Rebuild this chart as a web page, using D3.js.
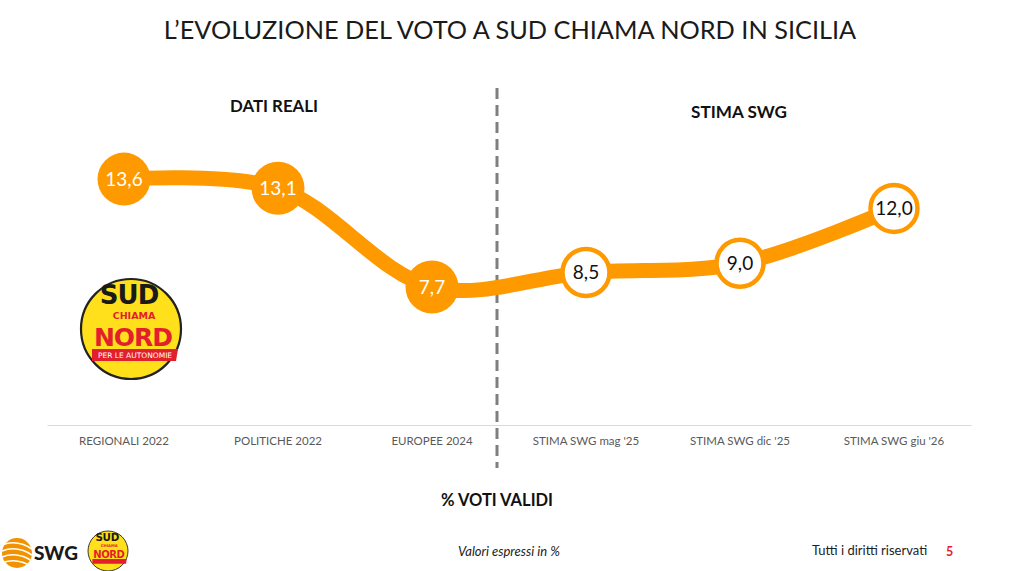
<!DOCTYPE html>
<html><head><meta charset="utf-8">
<script src="https://cdn.jsdelivr.net/npm/d3@7/dist/d3.min.js"></script>
<style>
html,body{margin:0;padding:0;background:#fff;}
svg{display:block;font-family:Lato,"Open Sans",sans-serif;}
</style></head>
<body>
<svg id="chart" width="1024" height="571"></svg>
<script>
const categories = ["REGIONALI 2022","POLITICHE 2022","EUROPEE 2024","STIMA SWG mag '25","STIMA SWG dic '25","STIMA SWG giu '26"];
const values = [13.6, 13.1, 7.7, 8.5, 9.0, 12.0];
const isEstimate = [false, false, false, true, true, true];
const valueLabels = ["13,6","13,1","7,7","8,5","9,0","12,0"];
const sectionLabels = ["DATI REALI","STIMA SWG"];

const svg = d3.select("#chart");
const orange = "#FF9900";

function fitText(sel, target){
  const n = sel.node();
  const w = n.getComputedTextLength();
  const fs = parseFloat(sel.attr("font-size"));
  sel.attr("font-size", fs*target/w);
}

// Title
const title = svg.append("text").attr("x",510).attr("y",39).attr("text-anchor","middle")
  .attr("font-size",26).attr("fill","#1a1a1a").attr("font-weight",400)
  .text("L\u2019EVOLUZIONE DEL VOTO A SUD CHIAMA NORD IN SICILIA");
fitText(title, 693);

const x = d3.scaleBand().domain(categories).range([47, 971]);
const y = d3.scaleLinear().domain([0, 15]).range([428, 153.5]);
const cx = d => x(d) + x.bandwidth()/2;

// axis
const axis = d3.axisBottom(x).tickSize(0).tickPadding(12);
const gAxis = svg.append("g").attr("transform","translate(0,425)").call(axis);
gAxis.select(".domain").attr("stroke","#d9d9d9").attr("stroke-width",1.2);
gAxis.selectAll("text").attr("font-family","Lato, 'Open Sans', sans-serif").attr("font-size",11.5).attr("fill","#595959");

// divider (slightly left of the band boundary, as in the reference)
const divX = x(categories[3]) - 12;
svg.append("line").attr("x1",divX).attr("x2",divX).attr("y1",88).attr("y2",468)
  .attr("stroke","#7f7f7f").attr("stroke-width",3).attr("stroke-dasharray","11,6");

// section labels
const s1 = svg.append("text").attr("x",274).attr("y",112).attr("text-anchor","middle").attr("font-weight",700)
  .attr("font-size",16).attr("fill","#111").text(sectionLabels[0]);
fitText(s1, 88);
const s2 = svg.append("text").attr("x",739).attr("y",118).attr("text-anchor","middle").attr("font-weight",700)
  .attr("font-size",16).attr("fill","#111").text(sectionLabels[1]);
fitText(s2, 96);
svg.append("text").attr("x",497).attr("y",506).attr("text-anchor","middle").attr("font-weight",700)
  .attr("font-size",16.5).attr("fill","#111").text("% VOTI VALIDI");

// line
const data = categories.map((c,i)=>({c, v:values[i], est:isEstimate[i], lab:valueLabels[i]}));
const line = d3.line().x(d=>cx(d.c)).y(d=>y(d.v)).curve(d3.curveCatmullRom.alpha(0.5));
svg.append("path").datum(data).attr("d",line).attr("fill","none")
  .attr("stroke",orange).attr("stroke-width",15).attr("stroke-linecap","round");

const pts = svg.append("g").selectAll("g").data(data).join("g")
  .attr("transform",d=>`translate(${cx(d.c)},${y(d.v)})`);
pts.append("circle").attr("r",d=>d.est?23.5:26.5)
  .attr("fill",d=>d.est?"#fff":orange)
  .attr("stroke",d=>d.est?orange:"none").attr("stroke-width",4.5);
pts.append("text").attr("text-anchor","middle").attr("dy","0.36em").attr("font-size",19)
  .attr("fill",d=>d.est?"#111":"#fff").text(d=>d.lab);

// Party logo
function partyLogo(g, s, small){
  g.append("circle").attr("r",50*s).attr("fill","#FFE01B").attr("stroke","#222").attr("stroke-width",2.2*s);
  g.append("text").attr("x",-2*s).attr("y",-25*s).attr("text-anchor","middle").attr("font-family","'DejaVu Sans',sans-serif")
    .attr("font-weight",900).attr("font-size",26*s).attr("fill","#1a1a1a").attr("letter-spacing",-1*s).text("SUD");
  g.append("text").attr("x",3*s).attr("y",-10*s).attr("text-anchor","middle").attr("font-family","'DejaVu Sans',sans-serif")
    .attr("font-weight",700).attr("font-size",9.5*s).attr("fill","#E31E2D").text("CHIAMA");
  g.append("text").attr("x",2*s).attr("y",17*s).attr("text-anchor","middle").attr("font-family","'DejaVu Sans',sans-serif")
    .attr("font-weight",900).attr("font-size",25*s).attr("fill","#E31E2D").attr("letter-spacing",-1*s).text("NORD");
  g.append("path").attr("d",`M${-39*s},${20*s}L${47*s},${20*s}L${45*s},${32*s}L${-39*s},${32*s}Z`).attr("fill","#E31E2D");
  if(!small){
    g.append("text").attr("x",4*s).attr("y",29*s).attr("text-anchor","middle").attr("font-family","'DejaVu Sans',sans-serif")
      .attr("font-size",7.5*s).attr("fill","#fff").text("PER LE AUTONOMIE");
  }
}
partyLogo(svg.append("g").attr("transform","translate(131,329)"), 1, false);
partyLogo(svg.append("g").attr("transform","translate(108,551)"), 0.4, true);

// SWG logo
const swg = svg.append("g").attr("transform","translate(17,553)");
swg.append("circle").attr("r",15).attr("fill","#F39200");
[-8,-2,4,10].forEach(o=>{
  swg.append("path").attr("d",`M-15,${o} Q0,${o-6} 15,${o+4}`).attr("stroke","#fff").attr("stroke-width",1.6).attr("fill","none");
});
svg.append("text").attr("x",34).attr("y",560).attr("font-weight",900).attr("font-size",19).attr("fill","#1a1a1a").text("SWG");

// footer
svg.append("text").attr("x",458).attr("y",556).attr("font-style","italic").attr("font-size",13).attr("fill","#222").text("Valori espressi in %");
svg.append("text").attr("x",812).attr("y",555).attr("font-size",13).attr("fill","#222").text("Tutti i diritti riservati");
svg.append("text").attr("x",946).attr("y",556).attr("font-size",12.5).attr("font-weight",700).attr("fill","#E31E2D").text("5");
</script>
</body></html>
